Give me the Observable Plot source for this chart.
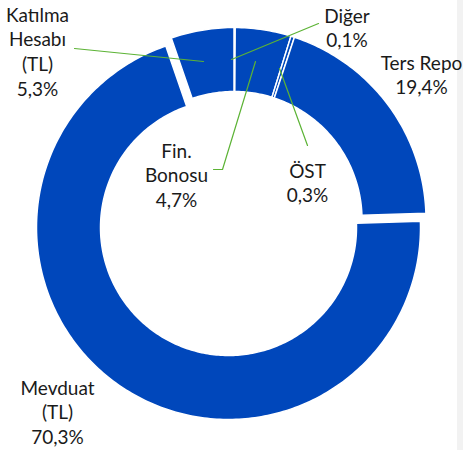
<!DOCTYPE html>
<html>
<head>
<meta charset="utf-8">
<script src="https://cdn.jsdelivr.net/npm/d3@7"></script>
<script src="https://cdn.jsdelivr.net/npm/@observablehq/plot@0.6"></script>
<style>
  html, body { margin: 0; padding: 0; }
  body { width: 463px; height: 450px; background: linear-gradient(to right, #ffffff 457px, #f2f2f2 457px); overflow: hidden; }
</style>
</head>
<body>
<div id="chart"></div>
<script>
// ---- data ----
const categories = ["Diğer", "Fin. Bonosu", "ÖST", "Ters Repo", "Mevduat (TL)", "Katılma Hesabı (TL)"];
const values = [0.1, 4.7, 0.3, 19.4, 70.3, 5.3];
const labelTexts = ["Diğer\n0,1%", "Fin.\nBonosu\n4,7%", "ÖST\n0,3%", "Ters Repo\n19,4%", "Mevduat\n(TL)\n70,3%", "Katılma\nHesabı\n(TL)\n5,3%"];

// ---- layout ----
const W = 463, H = 450;
const CX = 233.5, CY = 219, RO = 192, RI = 128;
const explode = {"Mevduat (TL)": 9.7};
const fontSize = 19, lineGap = 24.8;
const labelPos = { // center x, first baseline y (px)
  "Diğer": [346.5, 18],
  "Fin. Bonosu": [176, 153],
  "ÖST": [307, 173],
  "Ters Repo": [421, 65],
  "Mevduat (TL)": [57, 390],
  "Katılma Hesabı (TL)": [37, 17]
};
const leaders = [
  {cat: "Katılma Hesabı (TL)", pts: [[74, 48], [203, 61]]},
  {cat: "Diğer", pts: [[318, 23], [231, 59]]},
  {cat: "Fin. Bonosu", pts: [[255, 61], [222, 169], [213, 169]]},
  {cat: "ÖST", pts: [[279, 68], [307, 145]]}
];

const data = categories.map((c, i) => ({cat: c, value: values[i], label: labelTexts[i]}));
const arcs = d3.pie().sort(null).value(d => d.value).startAngle(0).endAngle(2 * Math.PI)(data);

const ringPts = [];
for (const a of arcs) {
  const off = explode[a.data.cat] || 0;
  const mid = (a.startAngle + a.endAngle) / 2;
  const ox = off * Math.sin(mid), oy = -off * Math.cos(mid);
  const n = Math.max(2, Math.ceil((a.endAngle - a.startAngle) * 60));
  for (let k = 0; k <= n; k++) {
    const t = a.startAngle + (a.endAngle - a.startAngle) * k / n;
    ringPts.push({cat: a.data.cat, x: CX + ox + RO * Math.sin(t), y: CY + oy - RO * Math.cos(t)});
  }
  for (let k = n; k >= 0; k--) {
    const t = a.startAngle + (a.endAngle - a.startAngle) * k / n;
    ringPts.push({cat: a.data.cat, x: CX + ox + RI * Math.sin(t), y: CY + oy - RI * Math.cos(t)});
  }
}

const leaderPts = leaders.flatMap(l => l.pts.map(p => ({cat: l.cat, x: p[0], y: p[1]})));
const labelData = data.map(d => ({
  text: d.label,
  x: labelPos[d.cat][0],
  y: labelPos[d.cat][1] - 0.71 * fontSize
}));

const FONT = "Lato, 'Noto Sans', sans-serif";
const chart = Plot.plot({
  width: W, height: H,
  margin: 0,
  x: {domain: [0, W], range: [0, W], axis: null},
  y: {domain: [0, H], range: [0, H], axis: null},
  style: {background: "transparent", fontFamily: FONT},
  marks: [
    Plot.line(ringPts, {x: "x", y: "y", z: "cat", fill: "#0047bb", stroke: "#ffffff", strokeWidth: 1.5, curve: "linear-closed"}),
    Plot.line(leaderPts, {x: "x", y: "y", z: "cat", stroke: "#5cb335", strokeWidth: 1.2}),
    Plot.text(labelData, {x: "x", y: "y", text: "text", fontSize: fontSize, lineHeight: lineGap / fontSize, lineAnchor: "top", textAnchor: "middle", fill: "#1a1a1a"})
  ]
});
document.getElementById("chart").appendChild(chart);
</script>
</body>
</html>
